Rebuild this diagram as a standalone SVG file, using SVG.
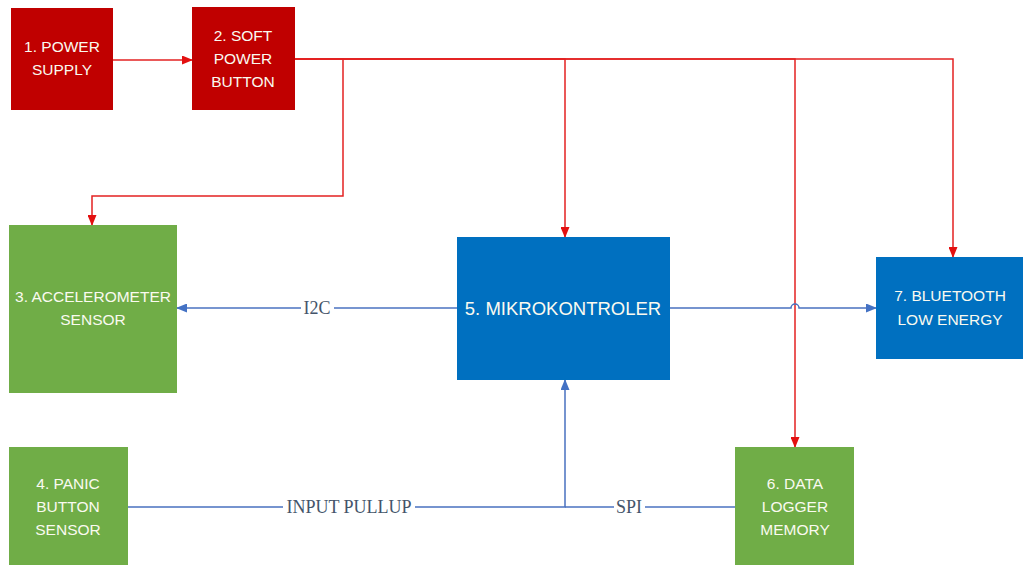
<svg xmlns="http://www.w3.org/2000/svg" width="1023" height="565" viewBox="0 0 1023 565">
<defs>
<style>
.red{fill:#C00000}
.green{fill:#70AD47}
.blue{fill:#0070C0}
.nt{font-family:"Liberation Sans",Arial,sans-serif;font-size:15.5px;fill:#FAFAF0;text-anchor:middle}
.big{font-size:18.5px}
.rl{fill:none;stroke:#E32222;stroke-width:1.5}
.bl{fill:none;stroke:#4A72C0;stroke-width:1.5}
.lbl{font-family:"Liberation Serif","Times New Roman",serif;font-size:18px;fill:#44546A;text-anchor:middle}
</style>
<marker id="ar" markerUnits="userSpaceOnUse" markerWidth="11" markerHeight="9" refX="10" refY="4.5" orient="auto">
<path d="M0,0 L11,4.5 L0,9 z" fill="#E31010"/>
</marker>
<marker id="ab" markerUnits="userSpaceOnUse" markerWidth="11" markerHeight="9" refX="10" refY="4.5" orient="auto">
<path d="M0,0 L11,4.5 L0,9 z" fill="#4472C4"/>
</marker>
</defs>
<rect width="1023" height="565" fill="#FFFFFF"/>
<g id="connectors">
<path class="rl" d="M113,60 H192" marker-end="url(#ar)"/>
<path class="rl" d="M295,59 H343 V196 H92 V225" marker-end="url(#ar)"/>
<path class="rl" d="M295,59 H565 V237" marker-end="url(#ar)"/>
<path class="rl" d="M295,59 H795 V447" marker-end="url(#ar)"/>
<path class="rl" d="M295,59 H953 V257" marker-end="url(#ar)"/>
<path class="bl" d="M457,308 H177" marker-end="url(#ab)"/>
<path class="bl" d="M670,308 H791 a4,4 0 0 1 8,0 H876" marker-end="url(#ab)"/>
<path class="bl" d="M128,507 H565 V380" marker-end="url(#ab)"/>
<path class="bl" d="M735,507 H565"/>
<rect x="301" y="298" width="33" height="20" fill="#FFFFFF"/>
<text class="lbl" x="317" y="314">I2C</text>
<rect x="283" y="497" width="132" height="20" fill="#FFFFFF"/>
<text class="lbl" x="349" y="513">INPUT PULLUP</text>
<rect x="614" y="497" width="31" height="20" fill="#FFFFFF"/>
<text class="lbl" x="629" y="513">SPI</text>
</g>
<g id="n1">
<rect class="red" x="11" y="8" width="102" height="102"/>
<text class="nt" x="62" y="52">1. POWER</text>
<text class="nt" x="62" y="75">SUPPLY</text>
</g>
<g id="n2">
<rect class="red" x="192" y="7" width="103" height="103"/>
<text class="nt" x="243" y="41">2. SOFT</text>
<text class="nt" x="243" y="64">POWER</text>
<text class="nt" x="243" y="87">BUTTON</text>
</g>
<g id="n3">
<rect class="green" x="9" y="225" width="168" height="168"/>
<text class="nt" x="93" y="302">3. ACCELEROMETER</text>
<text class="nt" x="93" y="325">SENSOR</text>
</g>
<g id="n4">
<rect class="green" x="9" y="447" width="119" height="120"/>
<text class="nt" x="68" y="489">4. PANIC</text>
<text class="nt" x="68" y="512">BUTTON</text>
<text class="nt" x="68" y="535">SENSOR</text>
</g>
<g id="n5">
<rect class="blue" x="457" y="237" width="213" height="143"/>
<text class="nt big" x="563" y="315">5. MIKROKONTROLER</text>
</g>
<g id="n6">
<rect class="green" x="735" y="447" width="119" height="120"/>
<text class="nt" x="795" y="489">6. DATA</text>
<text class="nt" x="795" y="512">LOGGER</text>
<text class="nt" x="795" y="535">MEMORY</text>
</g>
<g id="n7">
<rect class="blue" x="876" y="257" width="150" height="102"/>
<text class="nt" x="950" y="301">7. BLUETOOTH</text>
<text class="nt" x="950" y="325">LOW ENERGY</text>
</g>
</svg>
